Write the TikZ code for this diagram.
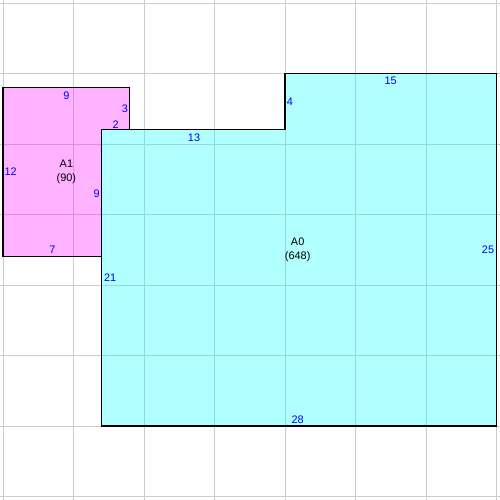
\documentclass[tikz,border=0pt]{standalone}
\usepackage{fontspec}
\setmainfont{Liberation Sans}
\definecolor{gridgrey}{HTML}{CCCCCC}
\definecolor{lenblue}{HTML}{0000FF}
\definecolor{roomcyan}{RGB}{0,255,255}
\definecolor{roompink}{RGB}{255,0,255}

\begin{document}
\begin{tikzpicture}[x=0.5cm, y=-0.5cm, every node/.style={font=\fontsize{11}{14}\selectfont, inner sep=0pt},
  len/.style={text=lenblue}, area/.style={align=center, text=black},
  room/.style={draw=black, line width=1.1pt, fill opacity=0.3}]
  \useasboundingbox (-0.21,-0.21) rectangle (35.25,35.25);
  \foreach \g in {0,5,...,35} {
    \draw[gridgrey, line width=0.8pt] (\g,-0.21) -- (\g,35.25);
    \draw[gridgrey, line width=0.8pt] (-0.21,\g) -- (35.25,\g);
  }
  % rooms
  \draw[room, fill=roompink] (0,6) -- (9,6) -- (9,9) -- (7,9) -- (7,18) -- (0,18) -- cycle;
  \draw[room, fill=roomcyan] (7,9) -- (20,9) -- (20,5) -- (35,5) -- (35,30) -- (7,30) -- cycle;
  % A1
  \node[area] (a1) at (4.5,12) {A1\\(90)};
  \node[len] (a1top) at (4.5,6.55) {9};
  \node[len] (a1r) at (8.65,7.5) {3};
  \node[len] (a1step) at (8,8.6) {2};
  \node[len] (a1rr) at (6.65,13.5) {9};
  \node[len] (a1bot) at (3.5,17.5) {7};
  \node[len] (a1left) at (0.55,12) {12};
  % A0
  \node[area] (a0) at (20.9,17.5) {A0\\(648)};
  \node[len] (a0top) at (13.55,9.55) {13};
  \node[len] (a0step) at (20.35,7) {4};
  \node[len] (a0top2) at (27.5,5.5) {15};
  \node[len] (a0right) at (34.4,17.5) {25};
  \node[len] (a0bot) at (20.9,29.55) {28};
  \node[len] (a0left) at (7.6,19.5) {21};
\end{tikzpicture}
\end{document}
